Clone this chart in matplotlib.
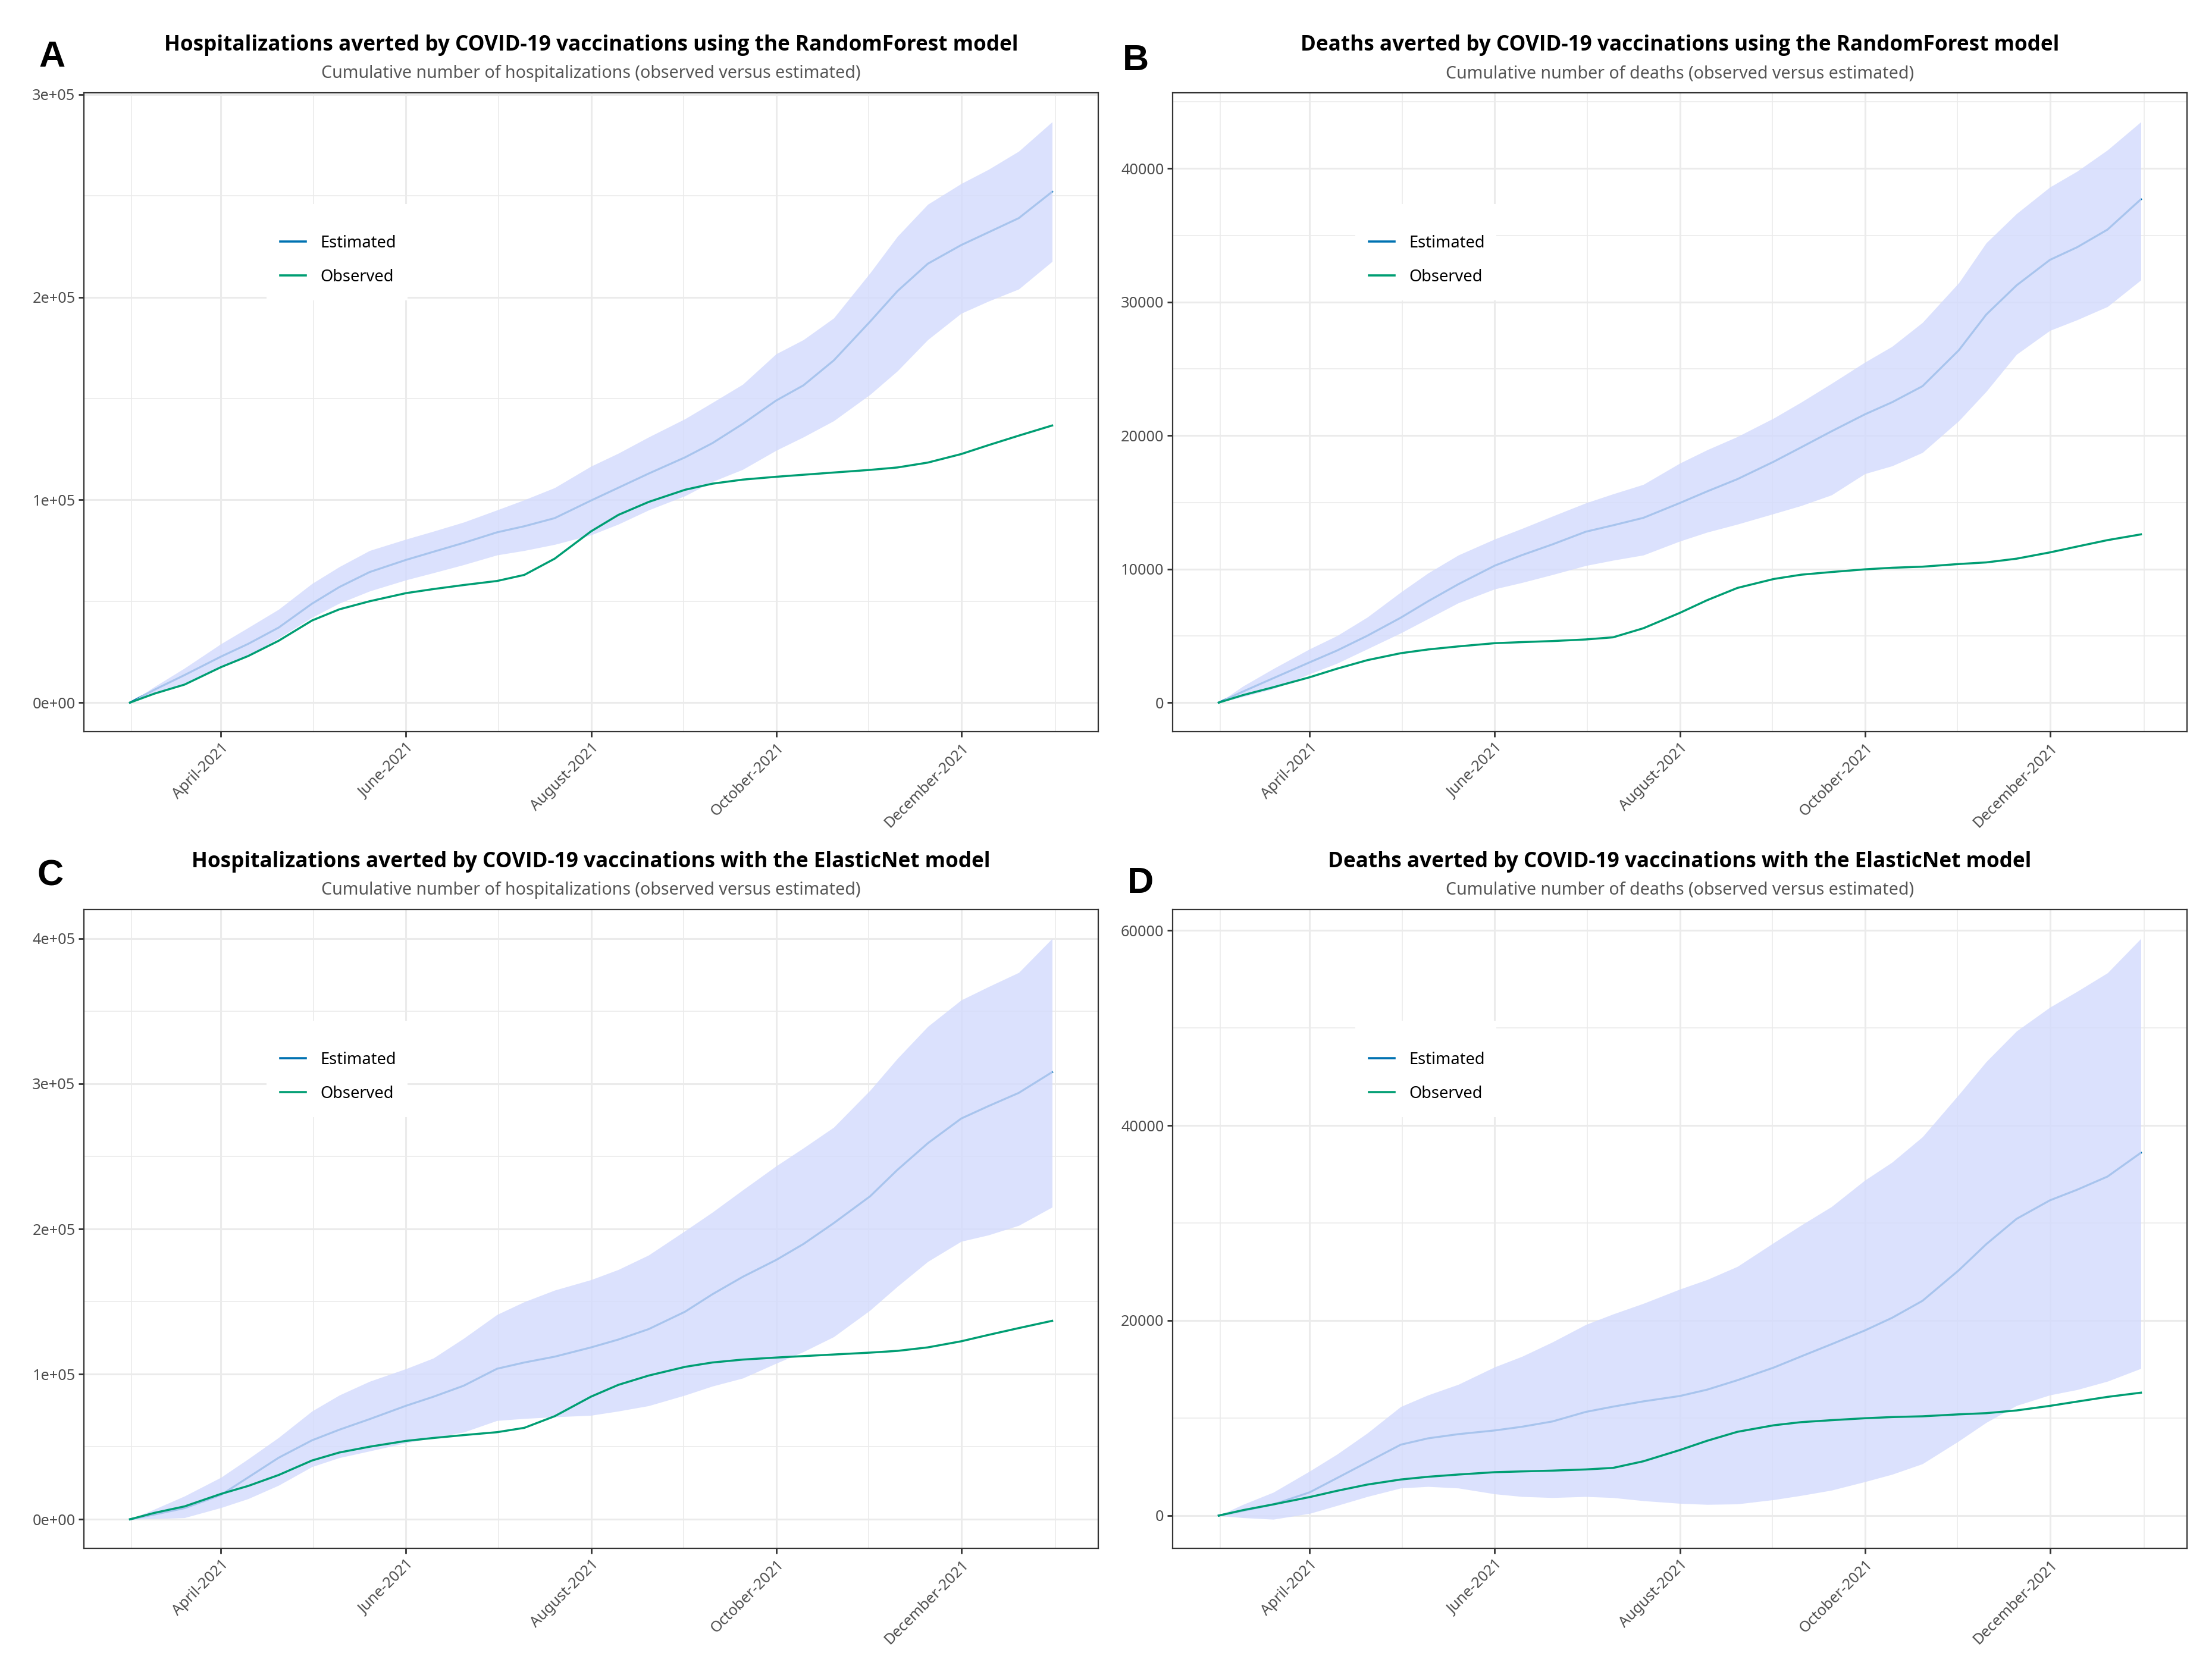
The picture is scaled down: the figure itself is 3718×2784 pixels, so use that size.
import numpy as np
import matplotlib
matplotlib.use("Agg")
import matplotlib.pyplot as plt
import matplotlib.dates as mdates
from matplotlib.ticker import MultipleLocator, FuncFormatter, FixedLocator
from matplotlib.lines import Line2D
from matplotlib.patches import Rectangle

plt.rcParams['font.family'] = ['Noto Sans', 'DejaVu Sans']

# dates the curves were read at
dates = np.array(['2021-03-02', '2021-03-10', '2021-03-20', '2021-04-01', '2021-04-10',
                  '2021-04-20', '2021-05-01', '2021-05-10', '2021-05-20', '2021-06-01',
                  '2021-06-10', '2021-06-20', '2021-07-01', '2021-07-10', '2021-07-20',
                  '2021-08-01', '2021-08-10', '2021-08-20', '2021-09-01', '2021-09-10',
                  '2021-09-20', '2021-10-01', '2021-10-10', '2021-10-20', '2021-11-01',
                  '2021-11-10', '2021-11-20', '2021-12-01', '2021-12-10', '2021-12-20',
                  '2021-12-31'], dtype='datetime64[D]')

# observed cumulative counts (same in both models)
hosp_observed = [0, 4400, 8900, 17500, 23000, 30500, 40500, 46000, 50000, 54000,
                 56000, 58000, 60000, 63000, 71000, 84500, 92600, 99000, 105000, 108000,
                 110000, 111400, 112400, 113500, 114800, 116000, 118400, 122600, 127000, 131700,
                 136700]
death_observed = [0, 560, 1150, 1900, 2540, 3180, 3700, 3980, 4210, 4450,
                  4530, 4610, 4730, 4890, 5570, 6720, 7670, 8590, 9260, 9580,
                  9780, 9980, 10100, 10180, 10380, 10500, 10780, 11250, 11690, 12170,
                  12600]

# A: hospitalizations, RandomForest
rf_hosp_est = [0, 6300, 13600, 22700, 29000, 37000, 48800, 57000, 64400, 70400,
               74400, 78800, 84000, 87000, 91000, 99700, 106000, 113000, 121000, 128000,
               137500, 149000, 156500, 168800, 188000, 203000, 216500, 225700, 232000, 239000,
               252000]
rf_hosp_low = [0, 4400, 9700, 18000, 23000, 31800, 42000, 49000, 55000, 60500,
               64000, 68000, 72800, 75000, 78000, 82700, 88000, 95000, 102000, 109000,
               115000, 124400, 131000, 139000, 152000, 163600, 179000, 192000, 198000, 204000,
               217600]
rf_hosp_high = [0, 7800, 17000, 29000, 37000, 46000, 58700, 67000, 75000, 80600,
                84500, 89000, 95000, 100000, 106000, 116600, 123000, 131000, 140000, 148000,
                157000, 172000, 179000, 189700, 212000, 230000, 245800, 256000, 263000, 272000,
                286500]

# B: deaths, RandomForest
rf_death_est = [0, 830, 1830, 3020, 3900, 5010, 6360, 7590, 8870, 10260,
                11050, 11850, 12800, 13280, 13840, 14950, 15820, 16740, 18050, 19120,
                20320, 21590, 22500, 23700, 26400, 29060, 31250, 33160, 34110, 35430,
                37700]
rf_death_low = [0, 440, 1030, 2150, 2940, 4020, 5210, 6280, 7470, 8510,
                8990, 9580, 10260, 10660, 11050, 12090, 12760, 13360, 14150, 14750,
                15550, 17140, 17730, 18730, 21110, 23300, 26080, 27870, 28670, 29660,
                31650]
rf_death_high = [0, 1230, 2540, 4020, 5010, 6400, 8270, 9700, 11050, 12250,
                 13040, 13960, 14950, 15630, 16340, 17930, 18930, 19920, 21310, 22500,
                 23900, 25490, 26680, 28470, 31450, 34430, 36620, 38610, 39800, 41390,
                 43500]

# C: hospitalizations, ElasticNet
en_hosp_est = [0, 3300, 7700, 16800, 28900, 42400, 54400, 61700, 69000, 78200,
               84400, 92000, 103700, 108000, 112000, 118400, 123800, 131000, 143000, 155000,
               167000, 178600, 189600, 204000, 222500, 240700, 259000, 276000, 284600, 293700,
               308000]
en_hosp_low = [0, 400, 1100, 8000, 14200, 23400, 36200, 42400, 47000, 52600,
               56300, 60000, 68000, 69400, 70500, 71600, 74500, 78200, 85500, 91700,
               97200, 107400, 115400, 125700, 144000, 160400, 177500, 191400, 195800, 202400,
               215000]
en_hosp_high = [0, 6900, 16000, 28900, 41600, 56300, 74500, 85500, 95000, 103700,
                111000, 124600, 141000, 149800, 157800, 165000, 172000, 182000, 198700, 211500,
                226800, 243300, 255700, 270000, 295500, 317400, 339400, 357600, 366800, 376600,
                400000]

# D: deaths, ElasticNet
en_death_est = [0, 490, 1140, 2390, 3850, 5480, 7270, 7920, 8350, 8730,
                9110, 9650, 10630, 11170, 11710, 12260, 12910, 13880, 15180, 16320,
                17570, 18980, 20280, 22020, 25160, 27820, 30420, 32320, 33410, 34760,
                37200]
en_death_low = [0, -220, -380, 220, 1030, 1950, 2820, 2980, 2820, 2220,
                1950, 1840, 1950, 1840, 1520, 1250, 1140, 1190, 1630, 2060,
                2600, 3470, 4230, 5310, 7650, 9540, 11280, 12360, 12910, 13770,
                15080]
en_death_high = [0, 1140, 2390, 4560, 6290, 8460, 11170, 12360, 13450, 15240,
                 16320, 17790, 19580, 20660, 21750, 23210, 24190, 25540, 27980, 29770,
                 31670, 34380, 36230, 38830, 43170, 46530, 49670, 52110, 53740, 55640,
                 59160]

EST_COLOR = '#0072B2'
OBS_COLOR = '#009E73'
RIBBON = '#D3DAFD'
GRID = '#EBEBEB'
BOLD_FONT = ['Open Sans', 'Noto Sans', 'DejaVu Sans']

W, H = 3718, 2784
DPI = 200
fig = plt.figure(figsize=(W / DPI, H / DPI), dpi=DPI)


def px_axes(left, top, right, bottom):
    return fig.add_axes([left / W, 1 - bottom / H, (right - left) / W, (bottom - top) / H])


panels = [
    dict(box=(141, 156, 1846, 1230), letter='A', lpos=(88, 96),
         title='Hospitalizations averted by COVID-19 vaccinations using the RandomForest model',
         sub='Cumulative number of hospitalizations (observed versus estimated)',
         est=rf_hosp_est, low=rf_hosp_low, high=rf_hosp_high, obs=hosp_observed, step=1e5, sci=True),
    dict(box=(1971, 156, 3676, 1230), letter='B', lpos=(1909, 102),
         title='Deaths averted by COVID-19 vaccinations using the RandomForest model',
         sub='Cumulative number of deaths (observed versus estimated)',
         est=rf_death_est, low=rf_death_low, high=rf_death_high, obs=death_observed, step=10000, sci=False),
    dict(box=(141, 1529, 1846, 2603), letter='C', lpos=(85, 1473),
         title='Hospitalizations averted by COVID-19 vaccinations with the ElasticNet model',
         sub='Cumulative number of hospitalizations (observed versus estimated)',
         est=en_hosp_est, low=en_hosp_low, high=en_hosp_high, obs=hosp_observed, step=1e5, sci=True),
    dict(box=(1971, 1529, 3676, 2603), letter='D', lpos=(1917, 1485),
         title='Deaths averted by COVID-19 vaccinations with the ElasticNet model',
         sub='Cumulative number of deaths (observed versus estimated)',
         est=en_death_est, low=en_death_low, high=en_death_high, obs=death_observed, step=20000, sci=False),
]

major_dates = np.array(['2021-02-01', '2021-04-01', '2021-06-01', '2021-08-01',
                        '2021-10-01', '2021-12-01', '2022-02-01'], dtype='datetime64[D]')
major_num = mdates.date2num(major_dates)
minor_num = (major_num[:-1] + major_num[1:]) / 2

for p in panels:
    l, t, r, b = p['box']
    ax = px_axes(l, t, r, b)
    ax.plot(dates, p['est'], color=EST_COLOR, lw=1.2, zorder=2)
    ax.fill_between(dates, p['low'], p['high'], color=RIBBON, alpha=0.8, lw=0, zorder=3)
    ax.plot(dates, p['obs'], color=OBS_COLOR, lw=1.25, zorder=4)
    ax.margins(x=0.05, y=0.05)

    ax.xaxis.set_major_locator(FixedLocator(major_num[1:-1]))
    ax.xaxis.set_major_formatter(mdates.DateFormatter('%B-%Y'))
    ax.xaxis.set_minor_locator(FixedLocator(minor_num))
    ax.yaxis.set_major_locator(MultipleLocator(p['step']))
    ax.yaxis.set_minor_locator(MultipleLocator(p['step'] / 2))
    if p['sci']:
        ax.yaxis.set_major_formatter(FuncFormatter(lambda v, pos: f'{v:.0e}'))
    else:
        ax.yaxis.set_major_formatter(FuncFormatter(lambda v, pos: f'{v:.0f}'))

    ax.grid(which='major', color=GRID, lw=1.1, zorder=0)
    ax.grid(which='minor', color=GRID, lw=0.6, zorder=0)
    ax.set_axisbelow(True)
    ax.tick_params(which='major', length=3.2, width=1.0, color='#333333',
                   labelsize=9.1, labelcolor='#4D4D4D', pad=2)
    ax.tick_params(which='minor', length=0)
    for s in ax.spines.values():
        s.set_color('#333333')
        s.set_linewidth(0.8)
    for lab in ax.get_xticklabels():
        lab.set_rotation(45)
        lab.set_ha('right')
        lab.set_rotation_mode('anchor')

    # legend on a white box inside the panel
    ax.add_patch(Rectangle((0.180, 0.675), 0.139, 0.151, transform=ax.transAxes,
                           facecolor='white', edgecolor='none', zorder=5))
    handles = [Line2D([], [], color=EST_COLOR, lw=1.3), Line2D([], [], color=OBS_COLOR, lw=1.3)]
    leg = ax.legend(handles, ['Estimated', 'Observed'], loc='center left',
                    bbox_to_anchor=(0.1935, 0.738), frameon=False, fontsize=9.8,
                    handlelength=1.6, handletextpad=0.88, labelspacing=1.06,
                    borderpad=0, borderaxespad=0)
    leg.set_zorder(6)

    cx = (l + r) / 2 / W
    fig.text(cx, 1 - (t - 71) / H, p['title'], ha='center', va='baseline',
             fontsize=12.65, fontweight='bold', family=BOLD_FONT, color='black')
    fig.text(cx, 1 - (t - 25) / H, p['sub'], ha='center', va='baseline',
             fontsize=10.3, color='#555555')
    fig.text(p['lpos'][0] / W, 1 - p['lpos'][1] / H, p['letter'], ha='center', va='center',
             fontsize=22, fontweight='bold', family='Liberation Sans')

fig.savefig('out.png', dpi=DPI, facecolor='white')
